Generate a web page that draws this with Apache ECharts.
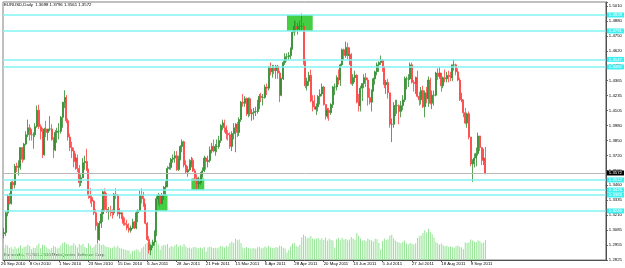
<!DOCTYPE html>
<html>
<head>
<meta charset="utf-8">
<script src="https://cdn.jsdelivr.net/npm/echarts@6/dist/echarts.min.js"></script>
<style>
  html, body { margin: 0; padding: 0; background: #fff; }
  #chart { width: 625px; height: 268px; }
</style>
</head>
<body>
<div id="chart"></div>
<script>
// EURUSD daily bars, 20 Sep 2010 .. 21 Sep 2011, rows are [open, high, low, close]
var candles = [
  [1.3050,1.3100,1.3010,1.3060],[1.3060,1.3240,1.3030,1.3230],[1.3230,1.3390,1.3200,1.3370],[1.3370,1.3400,1.3300,1.3310],[1.3310,1.3500,1.3300,1.3490],
  [1.3490,1.3510,1.3420,1.3470],[1.3470,1.3650,1.3440,1.3630],[1.3630,1.3660,1.3580,1.3620],[1.3620,1.3680,1.3550,1.3630],[1.3630,1.3790,1.3600,1.3790],
  [1.3790,1.3790,1.3660,1.3690],[1.3690,1.3830,1.3680,1.3820],[1.3820,1.3930,1.3810,1.3900],[1.3900,1.4030,1.3880,1.3960],[1.3960,1.3990,1.3850,1.3930],
  [1.3930,1.3950,1.3850,1.3900],[1.3900,1.3920,1.3780,1.3900],[1.3900,1.4000,1.3880,1.3970],[1.3970,1.4150,1.3960,1.4110],[1.4110,1.4157,1.3950,1.3970],
  [1.3970,1.3990,1.3860,1.3930],[1.3930,1.3960,1.3700,1.3730],[1.3730,1.3960,1.3720,1.3950],[1.3950,1.4020,1.3880,1.3920],[1.3920,1.3950,1.3850,1.3950],
  [1.3950,1.4060,1.3930,1.3950],[1.3950,1.3990,1.3850,1.3860],[1.3860,1.3880,1.3700,1.3770],[1.3770,1.3940,1.3760,1.3920],[1.3920,1.3960,1.3830,1.3930],
  [1.3930,1.4000,1.3860,1.3930],[1.3930,1.4060,1.3910,1.4050],[1.4050,1.4180,1.3960,1.4180],[1.4180,1.4282,1.4130,1.4220],[1.4220,1.4240,1.4000,1.4020],
  [1.4020,1.4040,1.3850,1.3880],[1.3880,1.3910,1.3760,1.3790],[1.3790,1.3840,1.3700,1.3760],[1.3760,1.3790,1.3620,1.3670],[1.3670,1.3740,1.3600,1.3700],
  [1.3700,1.3730,1.3580,1.3610],[1.3610,1.3640,1.3450,1.3490],[1.3490,1.3560,1.3460,1.3530],[1.3530,1.3700,1.3530,1.3660],[1.3660,1.3720,1.3600,1.3670],
  [1.3670,1.3780,1.3590,1.3600],[1.3600,1.3610,1.3350,1.3380],[1.3380,1.3440,1.3310,1.3360],[1.3360,1.3380,1.3280,1.3330],[1.3330,1.3340,1.3210,1.3230],
  [1.3230,1.3260,1.3080,1.3120],[1.3120,1.3150,1.2969,1.3000],[1.3000,1.3160,1.2990,1.3140],[1.3140,1.3260,1.3100,1.3220],[1.3220,1.3420,1.3150,1.3410],
  [1.3410,1.3440,1.3240,1.3260],[1.3260,1.3400,1.3230,1.3240],[1.3240,1.3280,1.3170,1.3250],[1.3250,1.3290,1.3200,1.3240],[1.3240,1.3260,1.3180,1.3230],
  [1.3230,1.3400,1.3210,1.3390],[1.3390,1.3440,1.3350,1.3380],[1.3380,1.3390,1.3200,1.3220],[1.3220,1.3270,1.3180,1.3230],[1.3230,1.3240,1.3180,1.3180],
  [1.3180,1.3200,1.3120,1.3140],[1.3140,1.3190,1.3120,1.3130],[1.3130,1.3170,1.3080,1.3100],[1.3100,1.3140,1.3060,1.3080],[1.3080,1.3120,1.3060,1.3100],
  [1.3100,1.3180,1.3090,1.3150],[1.3150,1.3160,1.3090,1.3100],[1.3100,1.3250,1.3090,1.3230],[1.3230,1.3260,1.3150,1.3250],[1.3250,1.3420,1.3240,1.3380],
  [1.3380,1.3440,1.3310,1.3350],[1.3350,1.3410,1.3280,1.3300],[1.3300,1.3310,1.3130,1.3140],[1.3140,1.3150,1.2990,1.3000],[1.3000,1.3030,1.2880,1.2910],
  [1.2910,1.2960,1.2867,1.2950],[1.2950,1.3000,1.2930,1.2980],[1.2980,1.3080,1.2950,1.3070],[1.3070,1.3370,1.3030,1.3350],[1.3350,1.3400,1.3300,1.3380],
  [1.3380,1.3390,1.3280,1.3310],[1.3310,1.3400,1.3300,1.3380],[1.3380,1.3460,1.3340,1.3450],[1.3450,1.3500,1.3380,1.3460],[1.3460,1.3630,1.3450,1.3610],
  [1.3610,1.3660,1.3600,1.3620],[1.3620,1.3700,1.3600,1.3690],[1.3690,1.3730,1.3660,1.3700],[1.3700,1.3760,1.3660,1.3720],[1.3720,1.3760,1.3590,1.3600],
  [1.3600,1.3720,1.3590,1.3690],[1.3690,1.3810,1.3680,1.3800],[1.3800,1.3860,1.3750,1.3840],[1.3840,1.3850,1.3620,1.3640],[1.3640,1.3680,1.3570,1.3580],
  [1.3580,1.3630,1.3540,1.3600],[1.3600,1.3690,1.3590,1.3650],[1.3650,1.3710,1.3620,1.3680],[1.3680,1.3700,1.3580,1.3590],[1.3590,1.3610,1.3500,1.3530],
  [1.3530,1.3560,1.3430,1.3480],[1.3480,1.3540,1.3440,1.3490],[1.3490,1.3580,1.3470,1.3550],[1.3550,1.3620,1.3530,1.3590],[1.3590,1.3720,1.3580,1.3700],
  [1.3700,1.3710,1.3600,1.3670],[1.3670,1.3720,1.3620,1.3680],[1.3680,1.3800,1.3660,1.3770],[1.3770,1.3830,1.3740,1.3800],[1.3800,1.3860,1.3750,1.3760],
  [1.3760,1.3820,1.3720,1.3800],[1.3800,1.3860,1.3750,1.3800],[1.3800,1.3890,1.3780,1.3850],[1.3850,1.3990,1.3830,1.3980],[1.3980,1.4030,1.3940,1.4000],
  [1.4000,1.4030,1.3920,1.3960],[1.3960,1.3980,1.3860,1.3910],[1.3910,1.3940,1.3850,1.3900],[1.3900,1.3920,1.3780,1.3800],[1.3800,1.3930,1.3760,1.3910],
  [1.3910,1.4000,1.3860,1.3960],[1.3960,1.4000,1.3750,1.3990],[1.3990,1.4010,1.3880,1.3920],[1.3920,1.4050,1.3890,1.4030],[1.4030,1.4190,1.4010,1.4180],
  [1.4180,1.4250,1.4140,1.4170],[1.4170,1.4230,1.4140,1.4210],[1.4210,1.4220,1.4060,1.4080],[1.4080,1.4220,1.4050,1.4210],[1.4210,1.4220,1.4060,1.4080],
  [1.4080,1.4120,1.4020,1.4090],[1.4090,1.4130,1.4030,1.4100],[1.4100,1.4140,1.4060,1.4100],[1.4100,1.4200,1.4080,1.4160],[1.4160,1.4250,1.4120,1.4230],
  [1.4230,1.4260,1.4180,1.4220],[1.4220,1.4250,1.4150,1.4220],[1.4220,1.4330,1.4210,1.4310],[1.4310,1.4340,1.4240,1.4300],[1.4300,1.4490,1.4280,1.4480],
  [1.4480,1.4520,1.4410,1.4440],[1.4440,1.4500,1.4390,1.4470],[1.4470,1.4500,1.4420,1.4450],[1.4450,1.4500,1.4380,1.4490],[1.4490,1.4500,1.4380,1.4430],
  [1.4430,1.4450,1.4180,1.4240],[1.4240,1.4390,1.4230,1.4380],[1.4380,1.4540,1.4370,1.4520],[1.4520,1.4600,1.4500,1.4570],[1.4570,1.4600,1.4530,1.4570],
  [1.4570,1.4610,1.4540,1.4580],[1.4580,1.4650,1.4550,1.4640],[1.4640,1.4790,1.4630,1.4780],[1.4780,1.4880,1.4750,1.4830],[1.4830,1.4880,1.4780,1.4810],
  [1.4810,1.4860,1.4760,1.4830],[1.4830,1.4880,1.4790,1.4830],[1.4830,1.4940,1.4800,1.4830],[1.4830,1.4860,1.4500,1.4520],[1.4520,1.4550,1.4300,1.4320],
  [1.4320,1.4390,1.4280,1.4360],[1.4360,1.4440,1.4320,1.4410],[1.4410,1.4460,1.4180,1.4190],[1.4190,1.4240,1.4100,1.4140],[1.4140,1.4240,1.4120,1.4120],
  [1.4120,1.4170,1.4070,1.4140],[1.4140,1.4240,1.4100,1.4230],[1.4230,1.4290,1.4160,1.4250],[1.4250,1.4340,1.4230,1.4310],[1.4310,1.4320,1.4150,1.4160],
  [1.4160,1.4160,1.4030,1.4060],[1.4060,1.4130,1.4040,1.4110],[1.4110,1.4130,1.4020,1.4090],[1.4090,1.4170,1.4070,1.4160],[1.4160,1.4320,1.4130,1.4310],
  [1.4310,1.4340,1.4240,1.4310],[1.4310,1.4410,1.4280,1.4390],[1.4390,1.4460,1.4330,1.4370],[1.4370,1.4510,1.4320,1.4500],[1.4500,1.4640,1.4490,1.4630],
  [1.4630,1.4640,1.4540,1.4580],[1.4580,1.4700,1.4560,1.4650],[1.4650,1.4690,1.4550,1.4580],[1.4580,1.4650,1.4500,1.4590],[1.4590,1.4600,1.4330,1.4340],
  [1.4340,1.4420,1.4320,1.4390],[1.4390,1.4450,1.4350,1.4410],[1.4410,1.4420,1.4170,1.4180],[1.4180,1.4250,1.4100,1.4150],[1.4150,1.4320,1.4100,1.4300],
  [1.4300,1.4340,1.4190,1.4340],[1.4340,1.4420,1.4300,1.4390],[1.4390,1.4430,1.4310,1.4370],[1.4370,1.4390,1.4150,1.4220],[1.4220,1.4300,1.4160,1.4180],
  [1.4180,1.4290,1.4100,1.4280],[1.4280,1.4390,1.4270,1.4380],[1.4380,1.4450,1.4330,1.4440],[1.4440,1.4520,1.4410,1.4500],[1.4500,1.4530,1.4440,1.4520],
  [1.4520,1.4580,1.4500,1.4540],[1.4540,1.4550,1.4440,1.4480],[1.4480,1.4490,1.4300,1.4330],[1.4330,1.4370,1.4250,1.4350],[1.4350,1.4380,1.4210,1.4260],
  [1.4260,1.4260,1.3960,1.3990],[1.3990,1.4040,1.3837,1.3990],[1.3990,1.4180,1.3960,1.4150],[1.4150,1.4200,1.4060,1.4150],[1.4150,1.4200,1.4080,1.4150],
  [1.4150,1.4160,1.3990,1.4100],[1.4100,1.4190,1.4050,1.4150],[1.4150,1.4240,1.4110,1.4200],[1.4200,1.4400,1.4180,1.4380],[1.4380,1.4400,1.4290,1.4380],
  [1.4380,1.4420,1.4310,1.4380],[1.4380,1.4520,1.4370,1.4500],[1.4500,1.4520,1.4340,1.4350],[1.4350,1.4370,1.4270,1.4340],[1.4340,1.4400,1.4250,1.4390],
  [1.4390,1.4450,1.4220,1.4230],[1.4230,1.4270,1.4150,1.4200],[1.4200,1.4310,1.4160,1.4280],[1.4280,1.4320,1.4130,1.4140],[1.4140,1.4280,1.4050,1.4260],
  [1.4260,1.4310,1.4170,1.4210],[1.4210,1.4400,1.4140,1.4370],[1.4370,1.4390,1.4160,1.4170],[1.4170,1.4280,1.4120,1.4240],[1.4240,1.4280,1.4150,1.4240],
  [1.4240,1.4440,1.4230,1.4430],[1.4430,1.4470,1.4370,1.4400],[1.4400,1.4480,1.4380,1.4430],[1.4430,1.4430,1.4270,1.4320],[1.4320,1.4400,1.4300,1.4390],
  [1.4390,1.4460,1.4350,1.4380],[1.4380,1.4440,1.4350,1.4410],[1.4410,1.4450,1.4350,1.4400],[1.4400,1.4440,1.4360,1.4390],[1.4390,1.4500,1.4360,1.4500],
  [1.4500,1.4547,1.4450,1.4500],[1.4500,1.4510,1.4410,1.4440],[1.4440,1.4470,1.4360,1.4370],[1.4370,1.4390,1.4190,1.4200],[1.4200,1.4260,1.4180,1.4200],
  [1.4200,1.4200,1.4050,1.4090],[1.4090,1.4130,1.3990,1.4000],[1.4000,1.4090,1.3960,1.4080],[1.4080,1.4100,1.3860,1.3880],[1.3880,1.3880,1.3630,1.3650],
  [1.3650,1.3690,1.3495,1.3680],[1.3680,1.3740,1.3620,1.3700],[1.3700,1.3790,1.3630,1.3740],[1.3740,1.3918,1.3720,1.3890],[1.3890,1.3890,1.3760,1.3790],
  [1.3790,1.3790,1.3640,1.3680],[1.3680,1.3780,1.3640,1.3700],[1.3698,1.3796,1.3561,1.3572]
];

// tick volume per bar
var volumes = [
  11800,15200,14600,12100,12800,10900,13500,11200,12600,14800,11600,12900,13700,15600,14100,
  10800,12300,11900,14600,16400,11700,15300,14900,12800,11400,10600,12100,14200,13000,11500,
  12400,14700,16900,17800,16200,15400,13900,14800,16800,14500,12600,16100,14700,15900,13200,
  12100,16700,14300,11900,13600,15800,17400,
  16300,15100,15600,14200,13100,12800,11700,12300,13800,12600,14100,12000,11400,10900,10200,
  9800,9400,6200,8900,9600,10800,9900,8100,
  11800,13600,15900,17200,16400,17900,13800,15100,19300,15600,10200,13900,15200,14700,16100,
  12600,13900,13100,14400,15800,13200,14700,13600,15900,13400,
  11900,12400,11600,12700,13100,12200,11800,12500,11400,12900,8300,12600,13400,12700,11900,
  12300,11700,12800,14100,13600,12400,14000,13200,16800,18600,
  17100,21300,19800,20600,16900,12400,11800,12900,12200,11600,11400,12000,11300,12700,13300,
  11800,12100,13600,12400,14200,12800,12200,11900,13100,12400,
  14600,13800,12300,11400,7600,10100,13500,16400,17200,13900,12900,15300,22700,25400,24100,
  21800,22600,23900,21600,20700,21500,22100,20300,21800,19900,
  22400,19600,21300,20100,19400,12600,20800,21900,19700,22300,20400,21100,19800,20600,22900,
  21400,20200,27100,24300,21600,19200,20100,18700,21500,20300,
  19800,18600,21300,20700,16900,10400,19100,21600,19900,20800,24600,25300,21800,19400,18200,
  17600,16800,17900,19600,16400,15700,17100,16200,15400,16800,
  22100,23800,24600,26900,29800,27400,31200,28100,25800,22400,17900,16800,15600,16400,14700,
  13800,14300,13100,13600,12900,12200,13800,14500,13200,12600,
  10800,17400,16900,17800,20400,19600,18300,17900,19800,18700,16900,17600,20100
];

// date axis labels and the bars they sit on
var dateTicks = ['26 Sep 2010', '8 Oct 2010', '1 Nov 2010', '23 Nov 2010', '15 Dec 2010', '6 Jan 2011',
  '28 Jan 2011', '21 Feb 2011', '15 Mar 2011', '6 Apr 2011', '28 Apr 2011', '20 May 2011',
  '13 Jun 2011', '5 Jul 2011', '27 Jul 2011', '18 Aug 2011', '9 Sep 2011'];
var tickBars = [0, 14, 30, 46, 62, 78, 94, 110, 126, 142, 158, 174, 190, 206, 222, 238, 254];

// price scale labels, bottom to top
var priceLabels = ['1.2825', '1.2955', '1.3085', '1.3210', '1.3335', '1.3460', '1.3590', '1.3720', '1.3850',
  '1.3980', '1.4105', '1.4235', '1.4365', '1.4490', '1.4620', '1.4750', '1.4880', '1.5010'];

// horizontal lines and rectangles drawn on the chart
var levels = [1.4928, 1.4791, 1.4547, 1.4482, 1.3512, 1.3426, 1.3383, 1.3246];
var zones = [ // [from bar, to bar, low, high]
  [154, 168, 1.4791, 1.4928],
  [83, 89, 1.3246, 1.3383],
  [102, 109, 1.3426, 1.3525]
];

var yMin = 1.2825, yStep = 0.012825, yMax = 1.50396;
var font = 'Liberation Sans';
var fs = 4.3;

// weekday calendar for the category axis (includes empty space on the right)
var monthNames = ['Jan', 'Feb', 'Mar', 'Apr', 'May', 'Jun', 'Jul', 'Aug', 'Sep', 'Oct', 'Nov', 'Dec'];
var days = [];
var d = new Date(Date.UTC(2010, 8, 20));
while (days.length < 328) {
  var wd = d.getUTCDay();
  if (wd !== 0 && wd !== 6) {
    days.push(d.getUTCDate() + ' ' + monthNames[d.getUTCMonth()] + ' ' + d.getUTCFullYear());
  }
  d.setUTCDate(d.getUTCDate() + 1);
}

var last = candles[candles.length - 1];
var header = 'EURUSD,Daily  ' + last.map(function (v) { return v.toFixed(4); }).join(' ');

function isTick(i) { return tickBars.indexOf(i) >= 0; }

var lineData = levels.map(function (v) {
  return {
    yAxis: v,
    lineStyle: { color: '#80f2f2', width: 1.5, type: 'solid' },
    label: {
      show: true, position: 'end', distance: 1, formatter: v.toFixed(4),
      color: '#ffffff', backgroundColor: '#3ff0f0', padding: [1, 2, 0, 2],
      fontSize: fs, fontFamily: font
    }
  };
});
lineData.push({
  yAxis: last[3],
  lineStyle: { color: '#b8b8b8', width: 1, type: 'solid' },
  label: {
    show: true, position: 'end', distance: 1, formatter: last[3].toFixed(4),
    color: '#ffffff', backgroundColor: '#000000', padding: [1, 2, 0, 2],
    fontSize: fs, fontFamily: font
  }
});

var areaData = zones.map(function (z) {
  return [{ xAxis: z[0], yAxis: z[3] }, { xAxis: z[1], yAxis: z[2] }];
});

var chart = echarts.init(document.getElementById('chart'));
var option = {
  animation: false,
  backgroundColor: '#ffffff',
  textStyle: { fontFamily: font },
  grid: {
    left: 3, right: 19, top: 2, bottom: 8,
    show: true, borderColor: '#808080', borderWidth: 1
  },
  xAxis: {
    type: 'category',
    data: days,
    boundaryGap: true,
    axisLine: { show: true, lineStyle: { color: '#505050', width: 1 } },
    axisTick: {
      show: true, alignWithLabel: true, length: 2,
      interval: function (i) { return isTick(i); },
      lineStyle: { color: '#505050' }
    },
    axisLabel: {
      // the first label sits against the left edge, drawn separately below
      interval: function (i) { return i > 0 && isTick(i); },
      formatter: function (v, i) { var k = tickBars.indexOf(i); return k > 0 ? dateTicks[k] : ''; },
      align: 'left', margin: 2, fontSize: fs, color: '#000', fontFamily: font
    },
    splitLine: { show: false }
  },
  yAxis: [{
    type: 'value',
    position: 'right',
    min: yMin, max: yMax, interval: yStep,
    axisLine: { show: true, lineStyle: { color: '#505050', width: 1 } },
    axisTick: { show: true, length: 2, lineStyle: { color: '#505050' } },
    axisLabel: {
      formatter: function (v) {
        var k = Math.round((v - yMin) / yStep);
        return Math.abs(v - (yMin + k * yStep)) < 1e-6 ? (priceLabels[k] || '') : '';
      },
      margin: 3, fontSize: fs, color: '#000', fontFamily: font
    },
    splitLine: { show: false }
  }, {
    type: 'value', min: 0, max: 258000, show: false
  }],
  series: [{
    name: 'Volume',
    type: 'bar',
    yAxisIndex: 1,
    data: volumes,
    barWidth: 1,
    itemStyle: { color: '#95e495' },
    z: 1
  }, {
    name: 'EURUSD',
    type: 'candlestick',
    data: candles.map(function (c) { return [c[0], c[3], c[2], c[1]]; }),
    barWidth: 1.5,
    itemStyle: {
      color: '#1e7d1e', color0: '#f52a2a',
      borderColor: '#2e8b2e', borderColor0: '#ff4040', borderWidth: 0.8
    },
    z: 3,
    markArea: {
      silent: true,
      itemStyle: { color: '#3acb3a', opacity: 0.95 },
      data: areaData
    },
    markLine: {
      silent: true,
      symbol: ['none', 'none'],
      precision: 4,
      data: lineData
    }
  }],
  graphic: [{
    type: 'text', x: 4, y: 3,
    style: { text: header, fontSize: fs, fontFamily: font, fill: '#000' }
  }, {
    type: 'text', x: 4, y: 253,
    style: { text: 'Eurocrafts, \u00a9 2001-2010 MetaQuotes Software Corp.', fontSize: fs, fontFamily: font, fill: '#000' }
  }, {
    type: 'text', x: 1, y: 262,
    style: { text: dateTicks[0], fontSize: fs, fontFamily: font, fill: '#000' }
  }]
};
chart.setOption(option);
</script>
</body>
</html>
